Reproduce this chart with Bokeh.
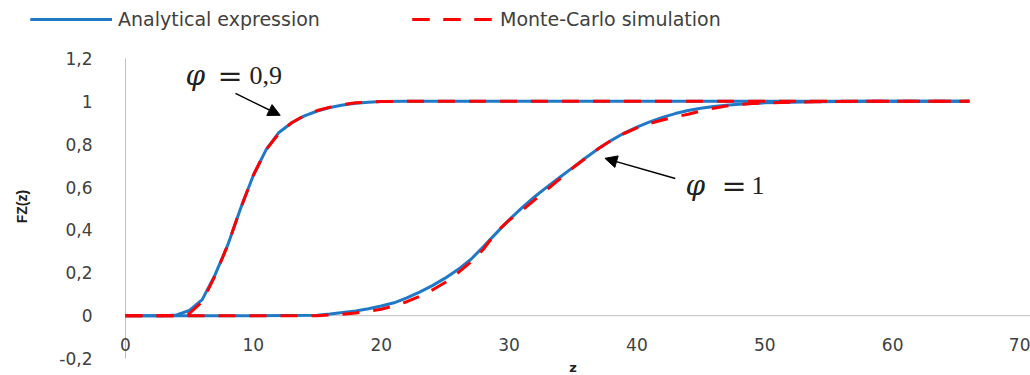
import math
from bokeh.plotting import figure
from bokeh.models import (Range1d, FixedTicker, CustomJSTickFormatter, Legend, LegendItem,
                          Arrow, NormalHead, Label)
from bokeh.embed import file_html
from bokeh.resources import INLINE

# ---------------- data ----------------
x_ticks = [0, 10, 20, 30, 40, 50, 60, 70]
y_ticks = [-0.2, 0.0, 0.2, 0.4, 0.6, 0.8, 1.0, 1.2]
y_tick_labels = ["-0,2", "0", "0,2", "0,4", "0,6", "0,8", "1", "1,2"]

# Analytical expression, phi = 0.9
an09_z = [0, 1, 2, 3, 4, 5, 6, 7, 8, 9, 10, 11, 12, 13, 14, 15, 16, 17, 18, 19, 20, 22, 25, 30, 40, 50, 60, 66]
an09_F = [0, 0, 0, 0, 0.003, 0.025, 0.075, 0.19, 0.33, 0.5, 0.655, 0.775, 0.855, 0.9, 0.932, 0.955,
          0.971, 0.983, 0.991, 0.996, 0.999, 1, 1, 1, 1, 1, 1, 1]
# Monte-Carlo simulation, phi = 0.9
mc09_z = [0, 1, 2, 3, 4, 5, 6, 7, 8, 9, 10, 11, 12, 13, 14, 15, 16, 17, 18, 19, 20, 22, 25, 30, 40, 50, 60, 66]
mc09_F = [0, 0, 0, 0, 0, 0.01, 0.065, 0.185, 0.33, 0.5, 0.655, 0.775, 0.85, 0.9, 0.935, 0.957,
          0.973, 0.985, 0.993, 0.997, 0.999, 1, 1, 1, 1, 1, 1, 1]

# Analytical expression, phi = 1
an1_z = [0, 5, 10, 15, 16, 17, 18, 19, 20, 21, 22, 23, 24, 25, 26, 27, 28, 29, 30, 31, 32, 33, 34,
         35, 36, 37, 38, 39, 40, 41, 42, 43, 44, 45, 46, 47, 48, 49, 50, 52, 54, 56, 58, 60, 66]
an1_F = [0, 0, 0, 0.002, 0.008, 0.015, 0.022, 0.032, 0.045, 0.06, 0.083, 0.11, 0.14, 0.175, 0.215,
         0.262, 0.322, 0.385, 0.447, 0.503, 0.555, 0.602, 0.647, 0.692, 0.737, 0.78, 0.818, 0.852,
         0.88, 0.904, 0.925, 0.943, 0.957, 0.968, 0.976, 0.982, 0.987, 0.99, 0.993, 0.996, 0.998,
         0.999, 1, 1, 1]
# Monte-Carlo simulation, phi = 1
mc1_z = [0, 5, 10, 15, 16, 17, 18, 19, 20, 21, 22, 23, 24, 25, 26, 27, 28, 29, 30, 31, 32, 33, 34,
         35, 36, 37, 38, 39, 40, 41, 42, 43, 44, 45, 46, 47, 48, 49, 50, 52, 54, 56, 58, 60, 66]
mc1_F = [0, 0, 0, 0, 0.003, 0.007, 0.012, 0.02, 0.03, 0.045, 0.065, 0.09, 0.12, 0.155, 0.2,
         0.25, 0.31, 0.39, 0.445, 0.49, 0.54, 0.59, 0.64, 0.69, 0.735, 0.78, 0.818, 0.85, 0.876,
         0.897, 0.913, 0.927, 0.94, 0.955, 0.968, 0.978, 0.985, 0.99, 0.993, 0.996, 0.998, 0.999,
         1, 1, 1]

series_names = ["Analytical expression", "Monte-Carlo simulation"]

BLUE = "#2079C7"
RED = "#FF0000"
TXT = "#404040"
INK = "#202020"
AXIS = "#bfbfbf"

# ---------------- layout (pixels) ----------------
W, H = 1030, 375
LEFT, PLOT_W = 125, 895          # x = 0 .. 70
TOP, PLOT_H = 58, 300            # y = 1.2 .. -0.2
sx = PLOT_W / (x_ticks[-1] - x_ticks[0])
sy = PLOT_H / (y_ticks[-1] - y_ticks[0])
x0 = x_ticks[0] - LEFT / sx
x1 = x0 + W / sx
y1 = y_ticks[-1] + TOP / sy
y0 = y1 - H / sy

p = figure(width=W, height=H, output_backend="svg", toolbar_location=None,
           x_range=Range1d(x0, x1), y_range=Range1d(y0, y1),
           min_border_left=0, min_border_right=0, min_border_top=0, min_border_bottom=0)
p.outline_line_color = None
p.grid.visible = False
p.background_fill_color = "white"

# axis lines (only over the tick span, as in the original)
p.segment(x0=[x_ticks[0]], y0=[0], x1=[x_ticks[-1] + 1], y1=[0], line_color=AXIS, line_width=1)
p.segment(x0=[0], y0=[y_ticks[0]], x1=[0], y1=[y_ticks[-1]], line_color=AXIS, line_width=1)

# x axis drawn at y = 0
xa = p.xaxis[0]
xa.fixed_location = 0
xa.ticker = FixedTicker(ticks=x_ticks)
xa.major_tick_line_color = None
xa.minor_tick_line_color = None
xa.axis_line_color = None
xa.major_label_text_font = "DejaVu Sans"
xa.major_label_text_font_size = "17px"
xa.major_label_text_color = TXT
xa.major_label_standoff = 16

# y axis drawn at x = 0
ya = p.yaxis[0]
ya.fixed_location = 0
ya.ticker = FixedTicker(ticks=y_ticks)
ya.formatter = CustomJSTickFormatter(
    args=dict(keys=[f"{t:.1f}" for t in y_ticks], labels=y_tick_labels),
    code="const i = keys.indexOf(tick.toFixed(1)); return i >= 0 ? labels[i] : '';")
ya.major_tick_line_color = None
ya.minor_tick_line_color = None
ya.axis_line_color = None
ya.major_label_text_font = "DejaVu Sans"
ya.major_label_text_font_size = "17px"
ya.major_label_text_color = TXT
ya.major_label_standoff = 27

# axis titles
p.add_layout(Label(x=0, y=0.509, x_offset=-104, text="FZ(z)", angle=math.pi / 2,
                   text_align="center", text_baseline="middle", text_font="Liberation Sans",
                   text_font_style="bold", text_font_size="14px", text_color=INK))
p.add_layout(Label(x=35, y=-0.2, y_offset=-9, text="z", text_align="center",
                   text_baseline="middle", text_font="DejaVu Sans", text_font_style="bold",
                   text_font_size="13px", text_color=INK))

b1 = p.line(an09_z, an09_F, line_color=BLUE, line_width=3)
b2 = p.line(an1_z, an1_F, line_color=BLUE, line_width=3)
r1 = p.line(mc09_z, mc09_F, line_color=RED, line_width=3, line_dash="17 14")
r2 = p.line(mc1_z, mc1_F, line_color=RED, line_width=3, line_dash="17 14")

common = dict(orientation="horizontal", glyph_width=82, glyph_height=20, label_standoff=6,
              padding=0, margin=0, border_line_color=None, background_fill_alpha=0,
              label_text_font="DejaVu Sans", label_text_font_size="19px", label_text_color=TXT)
p.add_layout(Legend(items=[LegendItem(label=series_names[0], renderers=[b1, b2])],
                    location=(30, H - 30), **common))
p.add_layout(Legend(items=[LegendItem(label=series_names[1], renderers=[r1, r2])],
                    location=(412, H - 30), **common))

# annotations
SERIF = "Liberation Serif"
p.add_layout(Label(x=4.7, y=1.12, text="φ", text_font="DejaVu Serif", text_font_style="italic",
                   text_font_size="28px", text_baseline="middle", text_color=INK))
p.add_layout(Label(x=4.7, y=1.12, x_offset=32, text="=", text_font="DejaVu Serif",
                   text_font_size="30px", text_baseline="middle", text_color=INK))
p.add_layout(Label(x=4.7, y=1.12, x_offset=64, text="0,9", text_font=SERIF,
                   text_font_size="26px", text_baseline="middle", text_color=INK))
p.add_layout(Label(x=43.8, y=0.607, text="φ", text_font="DejaVu Serif", text_font_style="italic",
                   text_font_size="28px", text_baseline="middle", text_color=INK))
p.add_layout(Label(x=43.8, y=0.607, x_offset=36, text="=", text_font="DejaVu Serif",
                   text_font_size="30px", text_baseline="middle", text_color=INK))
p.add_layout(Label(x=43.8, y=0.607, x_offset=66, text="1", text_font=SERIF,
                   text_font_size="26px", text_baseline="middle", text_color=INK))

p.add_layout(Arrow(end=NormalHead(size=12, fill_color="black", line_color="black"),
                   x_start=8.6, y_start=1.037, x_end=12.1, y_end=0.935,
                   line_color="black", line_width=1.5))
p.add_layout(Arrow(end=NormalHead(size=12, fill_color="black", line_color="black"),
                   x_start=43.0, y_start=0.64, x_end=37.5, y_end=0.734,
                   line_color="black", line_width=1.5))

open("out.html", "w").write(file_html(p, INLINE))
